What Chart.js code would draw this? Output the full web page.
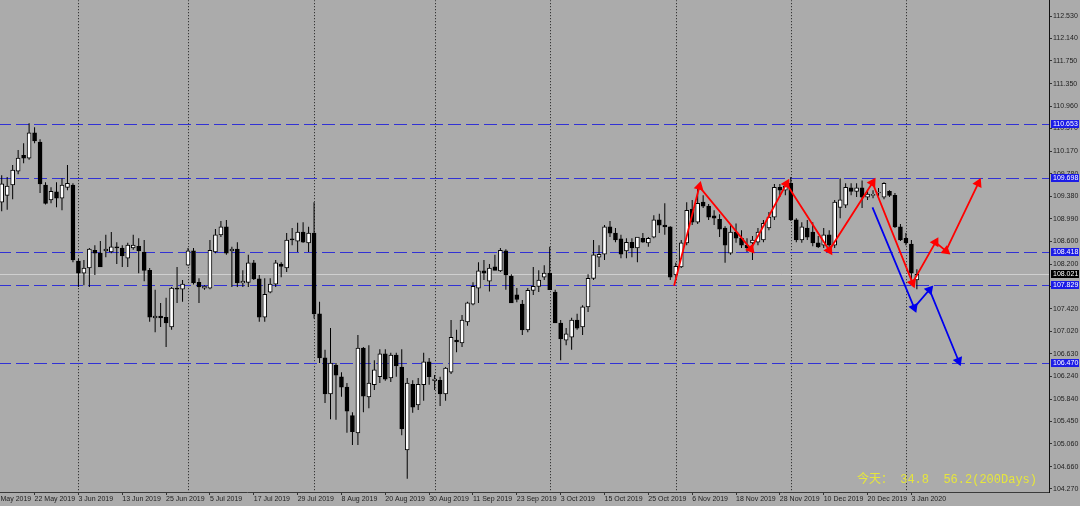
<!DOCTYPE html>
<html>
<head>
<meta charset="utf-8">
<script src="https://cdn.jsdelivr.net/npm/chart.js@4.4.1/dist/chart.umd.min.js"></script>
<style>
  body { margin: 0; background: #ababab; }
  #wrap { position: relative; width: 1080px; height: 506px; overflow: hidden; background: #ababab; }
  /* the zigzag arrow heads make Chart.js pad the top of the plot by 5px, so the
     canvas is moved up by that; it also starts 20px left of the page so the
     partly cut first date label can show */
  #c { position: absolute; left: -20px; top: -5px; }
  #note {
    position: absolute; left: 857px; top: 469px;
    font-family: "Liberation Mono", "Noto Sans CJK SC", monospace; font-size: 12px;
    color: #e6e63c; white-space: pre;
  }
</style>
</head>
<body>
<div id="wrap">
  <canvas id="c" width="1100" height="511"></canvas>
  <div id="note">今天： 34.8  56.2(200Days)</div>
</div>
<script>
// daily USDJPY bars, index 0 = 14 May 2019 ... 167 = 6 Jan 2020
const opens = [
  109.28,109.40,109.58,109.82,110.10,110.05,110.49,110.33,109.58,109.32,
  109.46,109.35,109.54,109.58,108.25,108.04,108.13,108.44,108.39,108.43,
  108.41,108.50,108.48,108.30,108.48,108.51,108.41,108.09,107.26,107.29,
  107.27,107.10,107.78,107.76,108.18,108.43,107.88,107.78,107.78,108.41,
  108.71,108.85,108.43,108.46,107.87,107.88,108.22,107.94,107.27,107.71,
  107.85,108.20,108.13,108.64,108.60,108.76,108.57,108.74,107.33,106.56,
  105.93,106.43,106.23,106.05,105.55,105.25,106.73,105.88,106.09,106.23,
  106.63,106.21,106.61,106.40,104.95,106.10,105.74,106.09,106.49,106.16,
  106.17,105.93,106.31,106.87,106.82,107.19,107.50,107.78,108.08,107.90,
  108.15,108.08,108.43,107.99,107.66,107.50,107.05,107.74,107.81,107.97,
  108.04,107.71,107.17,106.87,106.92,107.22,107.10,107.45,107.95,108.32,
  108.37,108.85,108.74,108.64,108.43,108.58,108.48,108.65,108.57,108.67,
  108.97,108.88,108.85,108.01,108.15,108.57,109.16,108.93,109.28,109.21,
  109.04,108.98,108.83,108.39,108.76,108.65,108.53,108.57,108.58,108.62,
  108.83,109.02,109.54,109.49,109.61,108.97,108.62,108.83,108.76,108.57,
  108.53,108.71,108.53,109.19,109.23,109.53,109.47,109.53,109.37,109.40,
  109.44,109.37,109.47,109.40,108.85,108.65,108.55,107.92
];
const highs = [
  109.75,109.72,109.93,110.19,110.31,110.66,110.59,110.38,109.63,109.54,
  109.63,109.70,109.93,109.61,108.29,108.27,108.48,108.53,108.60,108.71,
  108.76,108.58,108.53,108.57,108.71,108.65,108.62,108.13,107.75,107.52,
  107.61,107.80,108.15,107.92,108.48,108.48,107.95,107.83,108.62,108.81,
  108.95,108.97,108.50,108.58,108.09,108.36,108.27,108.01,107.95,107.95,
  108.27,108.23,108.74,108.83,108.92,108.93,108.85,109.28,107.54,106.70,
  107.08,106.47,106.31,106.12,105.61,106.96,106.75,106.78,106.52,106.71,
  106.71,106.65,106.65,106.71,106.21,106.17,106.21,106.65,106.56,106.26,
  106.23,106.40,107.22,107.05,107.31,107.54,107.88,108.23,108.27,108.20,
  108.36,108.48,108.46,108.02,107.78,107.57,107.78,108.15,108.09,108.18,
  108.50,107.75,107.22,107.08,107.26,107.33,107.48,108.02,108.62,108.53,
  108.88,108.95,108.83,108.71,108.65,108.65,108.67,108.74,108.67,109.05,
  109.08,109.26,108.86,108.22,108.62,109.28,109.32,109.53,109.40,109.25,
  109.14,109.07,108.86,108.88,108.91,108.79,108.65,108.69,108.83,108.97,
  109.11,109.60,109.60,109.63,109.72,109.00,108.93,108.97,108.93,108.69,
  108.83,108.79,109.32,109.70,109.61,109.61,109.61,109.66,109.49,109.49,
  109.53,109.63,109.49,109.44,108.90,108.74,108.62,108.11
];
const lows = [
  109.12,109.15,109.33,109.77,109.96,110.02,110.31,109.44,109.24,109.26,
  109.19,109.14,109.49,108.23,107.80,107.83,107.80,108.01,108.15,108.32,
  108.39,108.20,108.15,108.15,108.45,108.04,107.90,107.19,107.01,107.10,
  106.75,107.05,107.52,107.54,108.17,107.84,107.52,107.75,107.76,108.39,
  108.67,108.36,107.80,107.80,107.80,107.80,107.92,107.19,107.19,107.69,
  107.80,107.97,108.06,108.53,108.41,108.57,108.41,107.25,106.47,105.77,
  105.49,105.48,105.88,105.25,105.04,105.04,105.61,105.68,106.00,106.12,
  106.16,106.14,106.23,105.21,104.45,105.60,105.65,105.81,106.09,106.00,
  105.72,105.81,106.28,106.66,106.75,107.12,107.48,107.52,107.92,107.72,
  108.09,108.06,107.75,107.52,107.53,106.96,107.01,107.66,107.71,107.92,
  107.75,107.17,106.52,106.78,106.70,107.05,106.96,107.36,107.92,108.15,
  108.27,108.67,108.58,108.30,108.30,108.32,108.23,108.57,108.50,108.65,
  108.74,108.71,107.92,107.92,108.13,108.53,108.88,108.90,109.18,108.97,
  108.88,108.67,108.22,108.36,108.57,108.48,108.41,108.27,108.53,108.58,
  108.79,108.97,109.37,109.40,108.95,108.58,108.57,108.62,108.51,108.48,
  108.48,108.48,108.48,109.00,109.18,109.40,109.37,109.18,109.32,109.35,
  109.39,109.33,109.37,108.83,108.60,108.53,107.87,107.76
];
const closes = [
  109.60,109.56,109.84,110.05,110.05,110.49,110.35,109.60,109.26,109.47,
  109.35,109.58,109.61,108.27,108.04,108.13,108.46,108.39,108.15,108.46,
  108.50,108.48,108.34,108.53,108.53,108.43,108.09,107.27,107.29,107.26,
  107.17,107.78,107.76,107.85,108.43,107.87,107.80,107.81,108.44,108.71,
  108.85,108.39,108.46,107.87,107.90,108.22,107.94,107.27,107.67,107.85,
  108.22,108.16,108.62,108.62,108.76,108.58,108.74,107.33,106.56,105.93,
  106.47,106.26,106.05,105.63,105.27,106.73,105.89,106.12,106.35,106.63,
  106.19,106.61,106.42,105.32,106.12,105.70,106.10,106.49,106.23,106.19,
  105.93,106.38,106.92,106.84,107.22,107.52,107.81,108.08,108.04,108.13,
  108.09,108.44,108.01,107.52,107.58,107.05,107.74,107.81,107.92,108.04,
  107.75,107.17,106.89,106.98,107.22,107.08,107.45,107.95,108.36,108.37,
  108.85,108.74,108.62,108.37,108.58,108.48,108.67,108.58,108.65,108.97,
  108.88,108.85,107.97,108.16,108.57,109.14,108.93,109.26,109.21,109.02,
  109.00,108.81,108.53,108.76,108.65,108.53,108.48,108.62,108.76,108.91,
  109.02,109.54,109.49,109.56,108.97,108.62,108.85,108.67,108.57,108.50,
  108.71,108.53,109.28,109.32,109.54,109.47,109.53,109.37,109.42,109.41,
  109.44,109.61,109.40,108.85,108.62,108.57,108.04,108.02
];

// x axis labels: one every 8 bars, first one 2 bars before the first bar
const xTickLabels = [
  '10 May 2019','22 May 2019','3 Jun 2019','13 Jun 2019','25 Jun 2019','5 Jul 2019',
  '17 Jul 2019','29 Jul 2019','8 Aug 2019','20 Aug 2019','30 Aug 2019','11 Sep 2019',
  '23 Sep 2019','3 Oct 2019','15 Oct 2019','25 Oct 2019','6 Nov 2019','18 Nov 2019',
  '28 Nov 2019','10 Dec 2019','20 Dec 2019','3 Jan 2020'
];
const xTickFirst = -2;
const xTickStep = 8;
const monthStarts = [14, 34, 57, 79, 100, 123, 144, 165];

const yTicks = [112.530,112.140,111.750,111.350,110.960,110.570,110.170,109.780,109.380,
  108.990,108.600,108.200,107.810,107.420,107.020,106.630,106.240,105.840,105.450,
  105.060,104.660,104.270];

// horizontal levels and last price
const levels = [110.653, 109.698, 108.418, 107.829, 106.470];
const lastPrice = 108.021;

// drawn zigzag paths (bar index, price)
const redX = [122.7, 127.3, 136.7, 143.2, 151.0, 158.9, 166.2, 170.4, 172.3, 178.2];
const redY = [107.82, 109.55, 108.46, 109.60, 108.44, 109.62, 107.87, 108.58, 108.43, 109.61];
const blueX = [158.9, 166.5, 169.3, 174.6];
const blueY = [109.19, 107.44, 107.75, 106.51];

const axisFont = { family: 'Liberation Sans, Arial, sans-serif', size: 7 };

const bodies = opens.map((o, i) => ({ x: i, y: [Math.min(o, closes[i]), Math.max(o, closes[i])] }));
const wicks = opens.map((o, i) => ({ x: i, y: [lows[i], highs[i]] }));
const redPts = redX.map((x, i) => ({ x: x, y: redY[i] }));
const bluePts = blueX.map((x, i) => ({ x: x, y: blueY[i] }));

// arrow head pointing along the incoming segment
const arrowAngle = (ctx) => {
  const i = ctx.dataIndex;
  if (i === 0) return 0;
  const pts = ctx.dataset.data;
  const sx = ctx.chart.scales.x, sy = ctx.chart.scales.y;
  const dx = sx.getPixelForValue(pts[i].x) - sx.getPixelForValue(pts[i - 1].x);
  const dy = sy.getPixelForValue(pts[i].y) - sy.getPixelForValue(pts[i - 1].y);
  const a = Math.atan2(dx, -dy) * 180 / Math.PI;
  return isFinite(a) ? a : 0;
};

const overlay = {
  id: 'overlay',
  beforeDatasetsDraw(chart) {
    const { ctx, chartArea: a, scales: { x, y } } = chart;
    ctx.save();
    ctx.beginPath();
    ctx.rect(a.left, a.top, a.width, a.height);
    ctx.clip();
    ctx.lineWidth = 1;

    ctx.strokeStyle = '#1c1c1c';
    ctx.setLineDash([1, 2]);
    monthStarts.forEach(i => {
      const px = Math.round(x.getPixelForValue(i)) + 0.5;
      ctx.beginPath();
      ctx.moveTo(px, a.top);
      ctx.lineTo(px, a.bottom);
      ctx.stroke();
    });

    ctx.setLineDash([]);
    ctx.strokeStyle = '#cfcfcf';
    let py = Math.round(y.getPixelForValue(lastPrice)) + 0.5;
    ctx.beginPath();
    ctx.moveTo(a.left, py);
    ctx.lineTo(a.right, py);
    ctx.stroke();

    ctx.strokeStyle = '#3232d4';
    ctx.setLineDash([13, 5]);
    levels.forEach(v => {
      const ly = Math.round(y.getPixelForValue(v)) + 0.5;
      ctx.beginPath();
      ctx.moveTo(a.left, ly);
      ctx.lineTo(a.right, ly);
      ctx.stroke();
    });
    ctx.restore();
  },
  afterDraw(chart) {
    const { ctx, chartArea: a, scales: { y } } = chart;
    ctx.save();
    ctx.font = '7px Liberation Sans, Arial, sans-serif';
    ctx.textBaseline = 'middle';
    const box = (v, fill) => {
      const by = Math.round(y.getPixelForValue(v));
      ctx.fillStyle = fill;
      ctx.fillRect(a.right + 2, by - 4, 28, 8);
      ctx.fillStyle = '#ffffff';
      ctx.fillText(v.toFixed(3), a.right + 4, by + 0.5);
    };
    levels.forEach(v => box(v, '#1c1ce6'));
    box(lastPrice, '#000000');
    ctx.restore();
  }
};

new Chart(document.getElementById('c'), {
  type: 'bar',
  data: {
    datasets: [
      {
        type: 'line', data: redPts, order: -1,
        borderColor: '#ff0000', borderWidth: 1.8, tension: 0,
        pointStyle: 'triangle', pointRadius: c => c.dataIndex === 0 ? 0 : 4,
        pointRotation: arrowAngle, pointBackgroundColor: '#ff0000', pointBorderColor: '#ff0000'
      },
      {
        type: 'line', data: bluePts, order: -1,
        borderColor: '#0000ee', borderWidth: 1.8, tension: 0,
        pointStyle: 'triangle', pointRadius: c => c.dataIndex === 0 ? 0 : 4,
        pointRotation: arrowAngle, pointBackgroundColor: '#0000ee', pointBorderColor: '#0000ee'
      },
      {
        data: bodies, order: 0, grouped: false, barThickness: 4, minBarLength: 1,
        backgroundColor: c => closes[c.dataIndex] >= opens[c.dataIndex] ? '#ffffff' : '#000000',
        borderColor: '#000000', borderWidth: 1, borderSkipped: false
      },
      {
        data: wicks, order: 1, grouped: false, barThickness: 1, inflateAmount: 0,
        backgroundColor: '#000000', borderWidth: 0
      }
    ]
  },
  options: {
    responsive: false,
    animation: false,
    devicePixelRatio: 1,
    events: [],
    layout: { padding: 0, autoPadding: false },
    plugins: { legend: { display: false }, tooltip: { enabled: false } },
    scales: {
      x: {
        type: 'linear', min: -3.96, max: 191.11, offset: false,
        grid: { drawOnChartArea: false, tickLength: 3, color: '#333333', offset: false },
        border: { color: '#3a3a3a' },
        afterBuildTicks: s => { s.ticks = xTickLabels.map((_, k) => ({ value: xTickFirst + xTickStep * k })); },
        afterFit: s => { s.height = 14; },
        ticks: {
          autoSkip: false, maxRotation: 0, align: 'start', padding: 0,
          font: axisFont, color: '#1e1e1e',
          callback: (v, i) => xTickLabels[i]
        }
      },
      y: {
        position: 'right', min: 104.217, max: 112.809, beginAtZero: false,
        grid: { drawOnChartArea: false, tickLength: 3, color: '#333333' },
        border: { color: '#111111' },
        afterBuildTicks: s => { s.ticks = yTicks.map(v => ({ value: v })); },
        afterFit: s => { s.width = 31; },
        ticks: { padding: 1, font: axisFont, color: '#1e1e1e', callback: v => v.toFixed(3) }
      }
    }
  },
  plugins: [overlay]
});
</script>
</body>
</html>
